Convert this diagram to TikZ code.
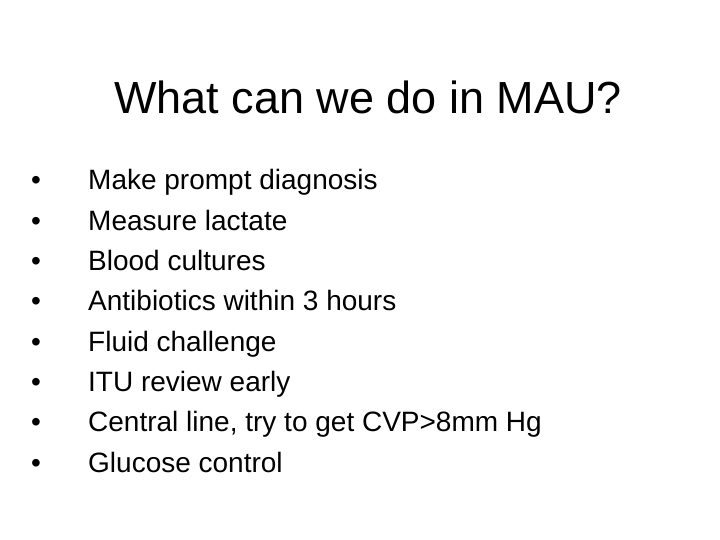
\documentclass[tikz,border=0pt]{standalone}
\usepackage{fontspec}
\setmainfont{Liberation Sans}
\begin{document}
\begin{tikzpicture}[x=1pt,y=-1pt,
  item/.style={anchor=base west,inner sep=0pt,font=\fontsize{28}{32}\selectfont},
  bul/.style={anchor=base,inner sep=0pt,font=\fontsize{28}{32}\selectfont}]
\useasboundingbox (0,0) rectangle (720,540);
\node[inner sep=0pt,font=\fontsize{45}{52}\selectfont] (title) at (368,97) {What can we do in MAU?};
\foreach \t [count=\i] in {Make prompt diagnosis,Measure lactate,Blood cultures,Antibiotics within 3 hours,Fluid challenge,ITU review early,{Central line, try to get CVP>8mm Hg},Glucose control}{
  \node[bul] (b\i) at (36,{190+40.3*(\i-1)}) {•};
  \node[item] (t\i) at (88,{190+40.3*(\i-1)}) {\t};
}
\end{tikzpicture}
\end{document}
